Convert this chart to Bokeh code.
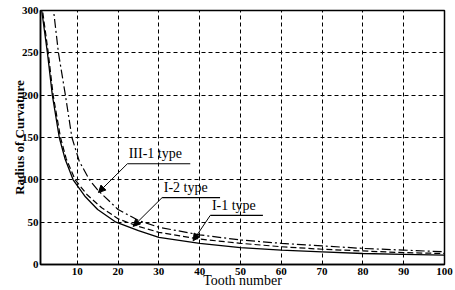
from bokeh.plotting import figure
from bokeh.models import (Range1d, FixedTicker, Arrow, NormalHead)
from bokeh.core.properties import value
from bokeh.embed import file_html
from bokeh.resources import INLINE

# Data
t_i1 = [1.0, 1.3, 2.7, 3.9, 5.6, 7.0, 9.0, 12, 15, 19.5, 25, 30, 40, 50, 60, 70, 80, 90, 100]
r_i1 = [340, 300, 250, 200, 150, 125, 100, 80, 65, 50, 40, 32, 25, 20, 17, 15, 13, 12, 11]

t_i2 = [1.2, 1.5, 2.9, 4.1, 5.9, 7.3, 9.5, 12.5, 16, 20, 25, 30, 40, 50, 60, 70, 80, 90, 100]
r_i2 = [340, 300, 250, 200, 150, 125, 100, 82, 67, 54, 45, 38, 30, 25, 21, 18, 16, 14, 13]

t_iii1 = [3.8, 4.2, 5.4, 7.1, 8.7, 10.5, 13, 15, 20, 25, 30, 40, 50, 60, 70, 80, 90, 100]
r_iii1 = [330, 300, 250, 200, 150, 122, 100, 88, 65, 52, 44, 35, 29, 25, 22, 19, 17, 15]

x_ticks = [10, 20, 30, 40, 50, 60, 70, 80, 90, 100]
y_ticks = [0, 50, 100, 150, 200, 250, 300]

labels = ["III-1 type", "I-2 type", "I-1 type"]
label_x = [22.6, 31.2, 43.0]
label_y = [122, 82, 61]
line_x0 = [22.3, 30.8, 42.6]
line_x1 = [37.7, 45.0, 55.5]
line_y = [119, 79, 58]
tip_x = [15.2, 23.7, 38.4]
tip_y = [85, 45, 28]

SERIF = "Liberation Serif"

p = figure(width=455, height=290, output_backend="svg", toolbar_location=None,
           x_range=Range1d(1, 100), y_range=Range1d(0, 300),
           min_border_left=40, min_border_right=11, min_border_top=10, min_border_bottom=26,
           x_axis_label="Tooth number", y_axis_label="Radius of Curvature")
p.background_fill_color = "white"
p.border_fill_color = "white"
p.outline_line_color = "black"
p.outline_line_width = 1.5

p.xaxis.ticker = FixedTicker(ticks=x_ticks)
p.yaxis.ticker = FixedTicker(ticks=y_ticks)
for ax in (p.xaxis, p.yaxis):
    ax.axis_line_color = "black"
    ax.axis_line_width = 1.5
    ax.major_tick_line_color = "black"
    ax.major_tick_in = 3
    ax.major_tick_out = 0
    ax.minor_tick_line_color = None
    ax.major_label_text_font = SERIF
    ax.major_label_text_font_style = "bold"
    ax.major_label_text_font_size = "11px"
    ax.major_label_text_color = "black"
    ax.axis_label_text_font = SERIF
    ax.axis_label_text_color = "black"
p.xaxis.major_label_standoff = 3
p.yaxis.major_label_standoff = 2
p.xaxis.axis_label_text_font_size = "14px"
p.xaxis.axis_label_text_font_style = "normal"
p.xaxis.axis_label_standoff = -5
p.yaxis.axis_label_text_font_size = "13px"
p.yaxis.axis_label_text_font_style = "bold"
p.yaxis.axis_label_standoff = -8

p.xgrid.grid_line_color = "black"
p.ygrid.grid_line_color = "black"
p.xgrid.grid_line_dash = "4 3"
p.ygrid.grid_line_dash = "4 3"
p.xgrid.grid_line_width = 1
p.ygrid.grid_line_width = 1

p.line(t_i1, r_i1, line_color="black", line_width=1.3)
p.line(t_i2, r_i2, line_color="black", line_width=1.2, line_dash="6 3")
p.line(t_iii1, r_iii1, line_color="black", line_width=1.2, line_dash="9 3 2 3")

# annotation leaders
p.segment(x0=line_x0, y0=line_y, x1=line_x1, y1=line_y, line_color="black", line_width=1.2)
for i in range(len(labels)):
    p.add_layout(Arrow(end=NormalHead(size=7, fill_color="black", line_color="black"),
                       x_start=line_x0[i], y_start=line_y[i], x_end=tip_x[i], y_end=tip_y[i],
                       line_color="black", line_width=1))
p.text(x=label_x, y=label_y, text=labels, text_font=value(SERIF), text_font_size="14px",
       text_color="black", text_baseline="bottom", text_align="left")

open("out.html", "w").write(file_html(p, INLINE))
